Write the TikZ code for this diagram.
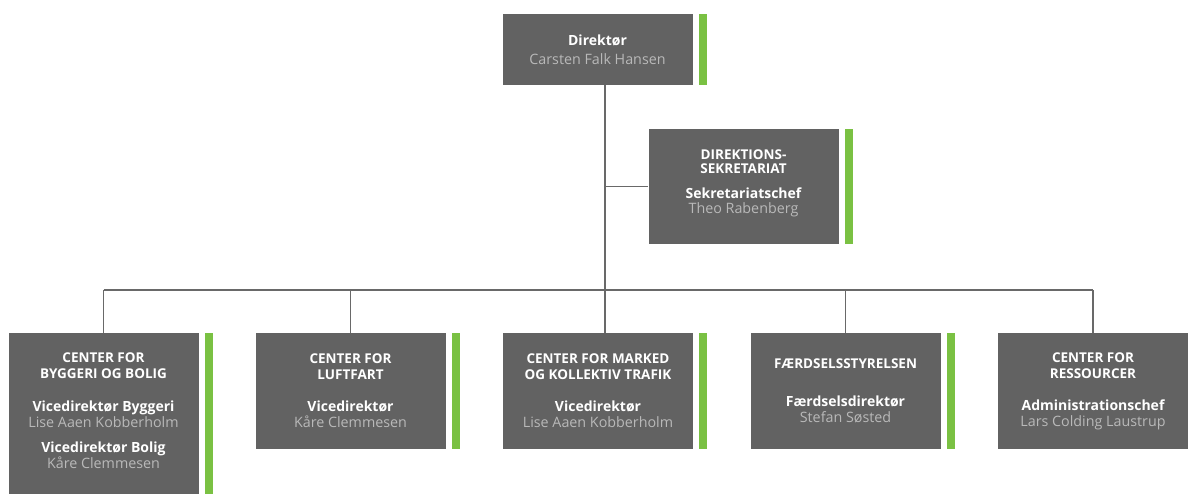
\documentclass[tikz,border=0pt]{standalone}
\usepackage{fontspec}
\setmainfont{Open Sans}
\definecolor{boxgray}{RGB}{98,98,98}
\definecolor{namegray}{RGB}{185,185,185}
\definecolor{bargreen}{RGB}{122,193,67}
\definecolor{linegray}{RGB}{105,105,105}
\newcommand\hdr[1]{{\fontsize{13.5}{16}\selectfont\bfseries #1}}
\newcommand\ttl[1]{{\fontsize{14}{16}\selectfont\bfseries #1}}
\newcommand\nm[1]{{\fontsize{14.3}{16}\selectfont\color{namegray}#1}}
\begin{document}
\begin{tikzpicture}[x=1pt,y=-1pt,
  orgbox/.style={fill=boxgray, draw=none, minimum width=190pt, minimum height=116pt,
    inner sep=0pt, align=center, text=white, font=\fontsize{13}{16}\selectfont},
  conn/.style={draw=linegray, line width=1.3pt},
  greenbar/.style={fill=bargreen, draw=none}]
\useasboundingbox (0,0) rectangle (1193,494);
\fill[white] (0,0) rectangle (1193,494);

% boxes
\node[orgbox, minimum height=71pt] (dir) at (597.5,49.5)
  {\ttl{Direktør}\\[3pt]\nm{Carsten Falk Hansen}};
\node[orgbox, minimum height=115pt] (sek) at (743.5,186.5)
  {\hdr{DIREKTIONS-}\\[-1.5pt]\hdr{SEKRETARIAT}\\[9pt]\ttl{Sekretariatschef}\\[-1pt]\nm{Theo Rabenberg}\\[-6pt]\mbox{}};
\node[orgbox, minimum height=167pt] (b1) at (103.5,416.5)
  {\hdr{CENTER FOR}\\\hdr{BYGGERI OG BOLIG}\\[17pt]\ttl{Vicedirektør Byggeri}\\\nm{Lise Aaen Kobberholm}\\[9pt]\ttl{Vicedirektør Bolig}\\\nm{Kåre Clemmesen}\\[-4pt]\mbox{}};
\node[orgbox] (b2) at (350.5,391)
  {\hdr{CENTER FOR}\\\hdr{LUFTFART}\\[16pt]\ttl{Vicedirektør}\\\nm{Kåre Clemmesen}};
\node[orgbox] (b3) at (598,391)
  {\hdr{CENTER FOR MARKED}\\\hdr{OG KOLLEKTIV TRAFIK}\\[16pt]\ttl{Vicedirektør}\\\nm{Lise Aaen Kobberholm}};
\node[orgbox] (b4) at (845.5,391)
  {\hdr{FÆRDSELSSTYRELSEN}\\[22pt]\ttl{Færdselsdirektør}\\\nm{Stefan Søsted}};
\node[orgbox] (b5) at (1093,391)
  {\hdr{CENTER FOR}\\\hdr{RESSOURCER}\\[16pt]\ttl{Administrationschef}\\\nm{Lars Colding Laustrup}};

% green bars
\foreach \b in {dir,sek,b1,b2,b3,b4}
  \fill[greenbar] ([xshift=6pt]\b.north east) rectangle ([xshift=14pt]\b.south east);

% connectors
\coordinate (trunk) at (605,290);
\draw[conn] (dir.south -| trunk) -- (b3.north -| trunk);
\draw[conn] (sek.west -| trunk) -- (sek.west);
\draw[conn] (b1.north |- trunk) -- (b5.north |- trunk);
\draw[conn] (b1.north |- trunk) -- (b1.north);
\draw[conn] (b2.north |- trunk) -- (b2.north);
\draw[conn] (b4.north |- trunk) -- (b4.north);
\draw[conn] (b5.north |- trunk) -- (b5.north);
\end{tikzpicture}
\end{document}
